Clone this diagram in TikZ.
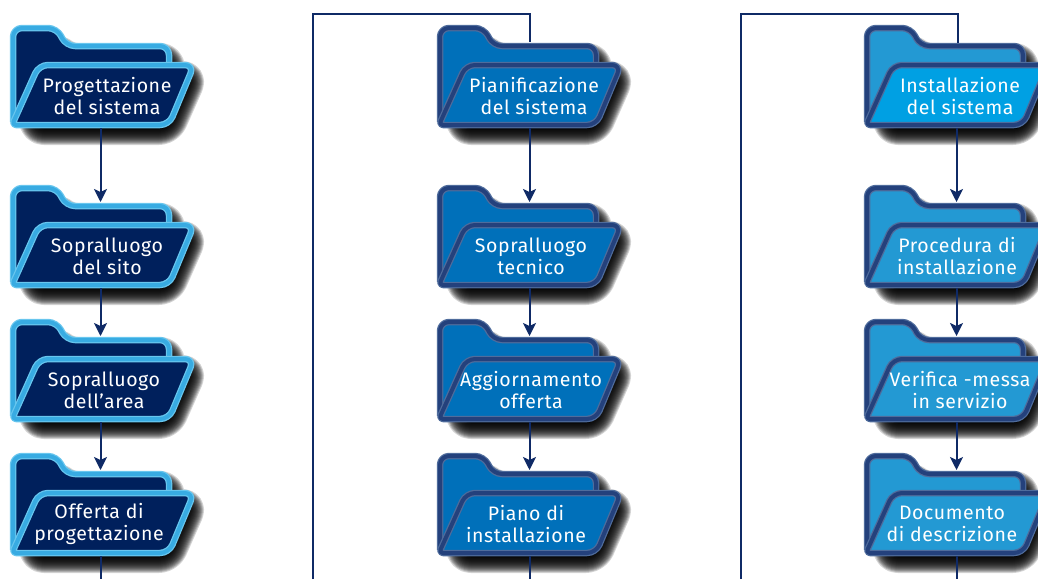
\documentclass[tikz,border=0pt]{standalone}
\usepackage{fontspec}
\setsansfont[LetterSpace=3]{Fira Sans}
\usepackage{xcolor}
\definecolor{connblue}{HTML}{0F2A66}
\definecolor{backA}{HTML}{00205C}
\definecolor{edgeA}{HTML}{68C6EE}
\definecolor{rimA}{HTML}{38ABE2}
\definecolor{backB}{HTML}{0070BA}
\definecolor{edgeB}{HTML}{4F6C9C}
\definecolor{rimB}{HTML}{24417C}
\definecolor{backC}{HTML}{2399D3}
\definecolor{edgeC}{HTML}{4F6C9C}
\definecolor{rimC}{HTML}{24417C}
\definecolor{titleC}{HTML}{00A0E3}
\tikzset{
    conn/.style={draw=connblue,line width=2pt},
    arrowconn/.style={conn,-{Stealth[length=13pt,width=13pt,inset=3pt]}},
    foldertext/.style={text=white,align=center,font=\sffamily\fontsize{19.5}{22}\selectfont,inner sep=0pt},
    folderline/.style={rounded corners=9pt,line join=round}
}
\usetikzlibrary{arrows.meta,positioning}

\newcommand{\backpath}{(3,97) -- (3,3) -- (47,3) -- (56,21) -- (159,21) -- (159,42)}
\newcommand{\flappath}{(100,40) -- (184,40) -- (159,100) [rounded corners=4pt] -- (2,100) [rounded corners=9pt] -- (29,40) -- cycle}

% name, x, y, scheme, front colour, text offset, text
\newcommand{\folder}[7]{
\begin{scope}[shift={(#2,#3)}]
    % Shadow
    \begin{scope}[shift={(5,8)}]
        \foreach \wd in {32,30,28,26,24,22,20,18,16,14,12,10,8,6,4,2}
            \path[folderline,fill=black,draw=black,opacity=0.17,line width=\wd pt]
                (20,96) -- (20,18) -- (44,18) -- (53,26) -- (154,26) -- (154,44) -- (176,44) -- (153,96) -- cycle;
    \end{scope}
    % Back part
    \path[folderline,fill=back#4] \backpath -- (159,70) -- cycle;
    \draw[folderline,edge#4,line width=6.5pt] \backpath;
    \draw[folderline,rim#4,line width=4pt] \backpath;
    % Front flap
    \path[folderline,fill=#5] \flappath;
    \draw[folderline,edge#4,line width=6.5pt] \flappath;
    \draw[folderline,rim#4,line width=4pt] \flappath;
    \node[foldertext] (#1) at (#6,71) {#7};
\end{scope}
}

\begin{document}
\begin{tikzpicture}[x=1pt,y=-1pt]
\useasboundingbox (0,0) rectangle (1038,579);

% First column
\folder{progetto}{10}{25}{A}{backA}{97}{Progettazione\\del sistema}
\folder{sitoA}{10}{185}{A}{backA}{97}{Sopralluogo\\del sito}
\folder{area}{10}{319}{A}{backA}{94}{Sopralluogo\\dell'area}
\folder{offerta}{10}{453}{A}{backA}{89}{Offerta di\\progettazione}

% Second column
\folder{piano}{437}{25}{B}{backB}{97}{Pianificazione\\del sistema}
\folder{tecnico}{437}{185}{B}{backB}{94}{Sopralluogo\\tecnico}
\folder{aggiorna}{437}{319}{B}{backB}{94}{Aggiornamento\\offerta}
\folder{installa}{437}{453}{B}{backB}{89}{Piano di\\installazione}

% Third column
\folder{sistema}{864}{25}{C}{titleC}{96}{Installazione\\del sistema}
\folder{procedura}{864}{185}{C}{backC}{93}{Procedura di\\installazione}
\folder{verifica}{864}{319}{C}{backC}{96}{Verifica -messa\\in servizio}
\folder{documento}{864}{453}{C}{backC}{88}{Documento\\di descrizione}

% Connector ends
\foreach \nm/\xx/\yy in {progetto/100.5/25,sitoA/100.5/185,area/100.5/319,offerta/100.5/453,
    piano/529.5/25,tecnico/529.5/185,aggiorna/529.5/319,installa/529.5/453,
    sistema/956.5/25,procedura/956.5/185,verifica/956.5/319,documento/956.5/453}{
    \coordinate (\nm-top) at (\xx,\yy+17);
    \coordinate (\nm-bot) at (\xx,\yy+103);
}
\coordinate (sistema-in) at (958,43);
\coordinate (outA) at (100.5,579);
\coordinate (outB) at (529.5,579);
\coordinate (outC) at (956.5,579);
\coordinate (cornerB) at (313,579);
\coordinate (cornerC) at (741,579);

% Arrows
\foreach \from/\to in {progetto/sitoA,sitoA/area,area/offerta,
    piano/tecnico,tecnico/aggiorna,aggiorna/installa,
    sistema/procedura,procedura/verifica,verifica/documento}
    \draw[arrowconn] (\from-bot) -- (\to-top);

% Lines leaving the page
\draw[conn] (offerta-bot) -- (outA);
\draw[conn] (installa-bot) -- (outB);
\draw[conn] (documento-bot) -- (outC);
\draw[conn] (cornerB) -- (313,14) -| (piano-top);
\draw[conn] (cornerC) -- (741,14) -| (sistema-in);
\end{tikzpicture}
\end{document}
